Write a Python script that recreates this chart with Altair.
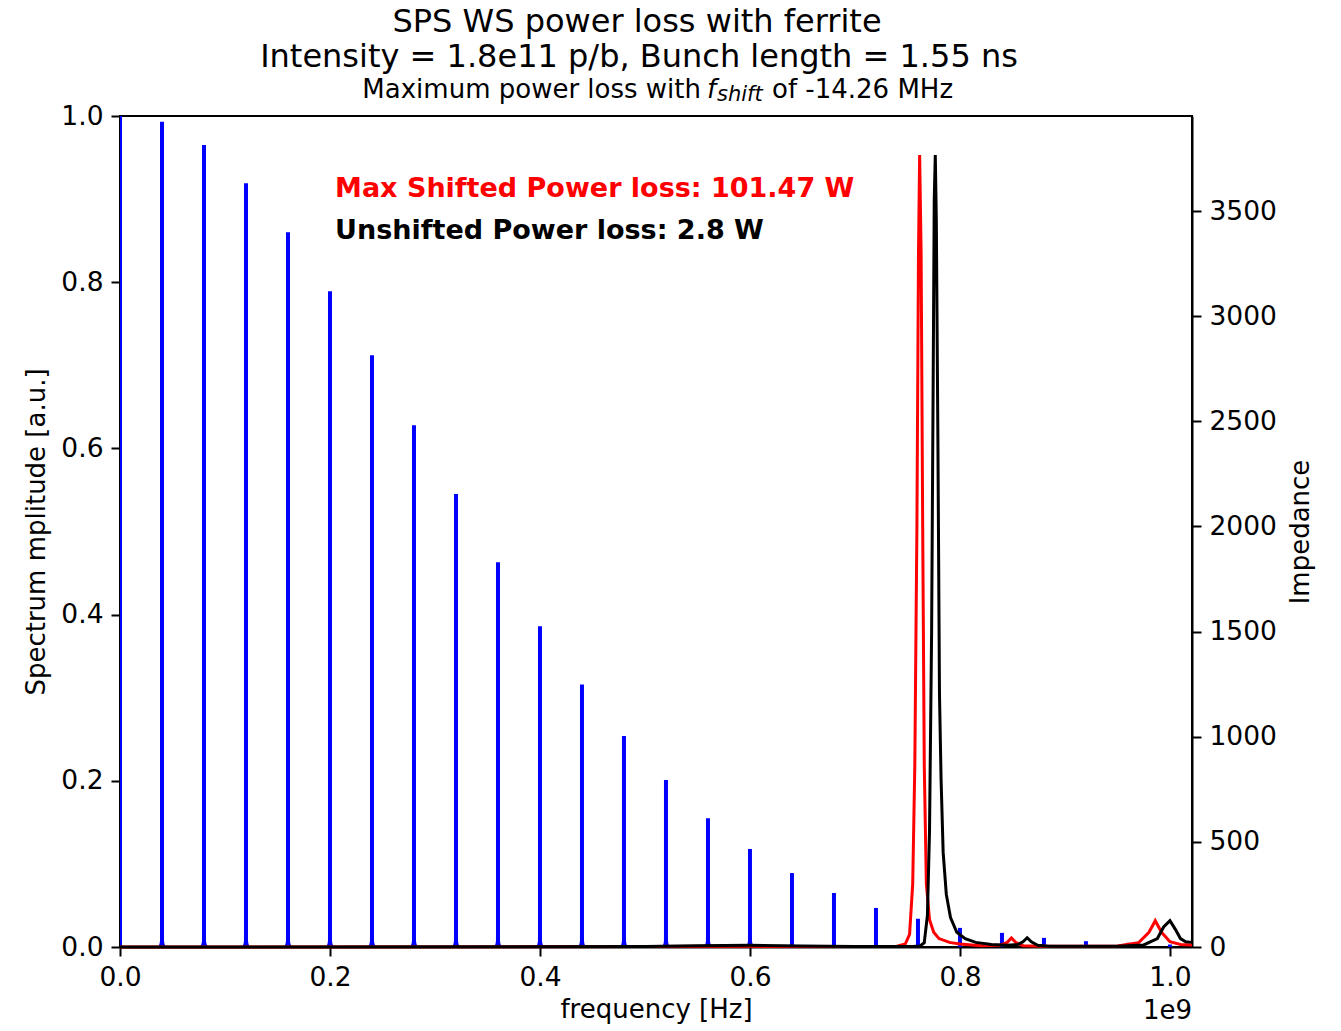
import altair as alt
import pandas as pd

FONT = "DejaVu Sans"

# Beam spectrum harmonics (frequency in units of 1e9 Hz, amplitude a.u.)
spec_freq = [0.0, 0.04, 0.08, 0.12, 0.16, 0.20, 0.24, 0.28, 0.32, 0.36, 0.40,
             0.44, 0.48, 0.52, 0.56, 0.60, 0.64, 0.68, 0.72, 0.76, 0.80,
             0.84, 0.88, 0.92, 0.96, 1.00]
spec_amp = [1.0, 0.993, 0.965, 0.919, 0.860, 0.789, 0.712, 0.628, 0.545, 0.463, 0.386,
            0.316, 0.254, 0.201, 0.155, 0.118, 0.089, 0.065, 0.047, 0.034, 0.023,
            0.017, 0.011, 0.007, 0.005, 0.003]

# Shifted impedance (red)
red_f = [0.0, 0.50, 0.60, 0.70, 0.74, 0.748, 0.752, 0.755, 0.757, 0.759, 0.7605,
         0.7616, 0.763, 0.7645, 0.766, 0.768, 0.771, 0.775, 0.78, 0.79, 0.80, 0.82,
         0.838, 0.845, 0.849, 0.853, 0.86, 0.88, 0.95, 0.97, 0.98, 0.986, 0.992,
         1.0, 1.01, 1.021]
red_z = [0, 2, 3, 2, 4, 15, 60, 300, 866, 2000, 3300,
         3766, 3300, 2000, 866, 300, 130, 70, 40, 22, 14, 6,
         8, 22, 43, 22, 6, 3, 5, 20, 70, 125, 70,
         25, 12, 10]

# Unshifted impedance (black)
black_f = [0.0, 0.50, 0.55, 0.60, 0.65, 0.70, 0.755, 0.762, 0.766, 0.769, 0.771,
           0.773, 0.7745, 0.7755, 0.7765, 0.7775, 0.779, 0.7805, 0.782, 0.784,
           0.787, 0.791, 0.797, 0.805, 0.815, 0.83, 0.845, 0.855, 0.860, 0.864,
           0.868, 0.874, 0.885, 0.95, 0.975, 0.988, 0.994, 1.000, 1.005, 1.010,
           1.015, 1.021]
black_z = [0, 2, 6, 8, 5, 2, 2, 5, 20, 150, 550,
           1500, 2700, 3550, 3766, 3450, 2400, 1200, 800, 450,
           250, 140, 70, 40, 22, 12, 8, 12, 25, 44,
           25, 8, 4, 4, 10, 40, 95, 125, 85, 40,
           25, 22]

x_ticks = [0.0, 0.2, 0.4, 0.6, 0.8, 1.0]
left_ticks = [0.0, 0.2, 0.4, 0.6, 0.8, 1.0]
right_ticks = [0, 500, 1000, 1500, 2000, 2500, 3000, 3500]

annot_text = ["Max Shifted Power loss: 101.47 W", "Unshifted Power loss: 2.8 W"]
annot_color = ["red", "black"]
annot_x = [0.2048, 0.2048]
annot_y = [0.912, 0.862]

W, H = 1072, 831
X_DOMAIN = [0, 1.021]

spec_df = pd.DataFrame({"f": spec_freq, "amp": spec_amp, "base": [0.0] * len(spec_freq)})
red_df = pd.DataFrame({"f": red_f, "z": red_z, "i": list(range(len(red_f)))})
black_df = pd.DataFrame({"f": black_f, "z": black_z, "i": list(range(len(black_f)))})
annot_df = pd.DataFrame({"t": annot_text, "c": annot_color, "x": annot_x, "y": annot_y})
one = pd.DataFrame({"d": [0]})

xscale = alt.Scale(domain=X_DOMAIN, nice=False, zero=False)
x_axis = alt.Axis(values=x_ticks, format=".1f", title="frequency [Hz]", titlePadding=6,
                  labelPadding=8, labelFlush=False)
yscale = alt.Scale(domain=[0, 1], nice=False)
y_axis = alt.Axis(values=left_ticks, format=".1f", title="Spectrum mplitude [a.u.]",
                  orient="left", titlePadding=11, labelPadding=8, labelFlush=False)
zscale = alt.Scale(domain=[0, 3952], nice=False)
z_axis = alt.Axis(values=right_ticks, format="d", title="Impedance", orient="right",
                  titleAngle=270, titleBaseline="top", titlePadding=11,
                  labelPadding=8, labelFlush=False)

blue = alt.Chart(spec_df).mark_rule(color="blue", strokeWidth=4, clip=True).encode(
    x=alt.X("f:Q", scale=xscale, axis=x_axis),
    y=alt.Y("amp:Q", scale=yscale, axis=y_axis),
    y2="base:Q",
)

# widened foot at the base of each spectral line
foot = alt.Chart(spec_df).transform_filter("datum.amp > 0.1 && datum.f > 0").mark_point(
    shape="M-1,0 Q-0.3,-0.2 -0.4,-2 L0.4,-2 Q0.3,-0.2 1,0 Z",
    filled=True, color="blue", opacity=1, size=100, strokeWidth=0,
).encode(
    x=alt.X("f:Q", scale=xscale, axis=x_axis),
    y=alt.Y("base:Q", scale=yscale, axis=y_axis),
)

annot = alt.Chart(annot_df).mark_text(
    align="left", baseline="middle", font=FONT, fontSize=27, fontWeight="bold"
).encode(
    x=alt.X("x:Q", scale=xscale, axis=x_axis),
    y=alt.Y("y:Q", scale=yscale, axis=y_axis),
    text="t:N",
    color=alt.Color("c:N", scale=None),
)

def txt(s, x, y, size=26, align="center", style="normal"):
    return alt.Chart(one).mark_text(
        text=s, align=align, baseline="middle", font=FONT, fontSize=size,
        fontStyle=style, color="black"
    ).encode(x=alt.value(x), y=alt.value(y))

titles = [
    txt("SPS WS power loss with ferrite", 517, -94, size=32),
    txt("Intensity = 1.8e11 p/b, Bunch length = 1.55 ns", 519, -59, size=32),
    txt("Maximum power loss with", 581, -26, size=26, align="right"),
    txt("f", 587, -26, size=26, align="left", style="italic"),
    txt("shift", 597, -21, size=21, align="left", style="italic"),
    txt("of -14.26 MHz", 652, -26, size=26, align="left"),
    txt("1e9", 1072, 895, size=26, align="right"),
]

left = alt.layer(blue, foot, annot, *titles)

red = alt.Chart(red_df).mark_line(color="red", strokeWidth=3).encode(
    x=alt.X("f:Q", scale=xscale, axis=x_axis),
    y=alt.Y("z:Q", scale=zscale, axis=z_axis),
    order="i:Q",
)
black = alt.Chart(black_df).mark_line(color="black", strokeWidth=3).encode(
    x=alt.X("f:Q", scale=xscale, axis=x_axis),
    y=alt.Y("z:Q", scale=zscale, axis=z_axis),
    order="i:Q",
)
right = alt.layer(red, black)

chart = alt.layer(left, right).resolve_scale(y="independent").properties(
    width=W, height=H,
    autosize=alt.AutoSizeParams(type="none"),
    padding={"left": 112, "top": 108, "right": 140, "bottom": 80},
).configure_view(
    stroke="black", strokeWidth=2
).configure_axis(
    grid=False, domainColor="black", domainWidth=2, tickColor="black", tickWidth=2,
    tickSize=9, labelFont=FONT, labelFontSize=26.5, labelColor="black",
    titleFont=FONT, titleFontSize=26, titleFontWeight="normal", titleColor="black",
    zindex=1,
)

chart.save("out.html", embed_options={"renderer": "svg", "actions": False})
